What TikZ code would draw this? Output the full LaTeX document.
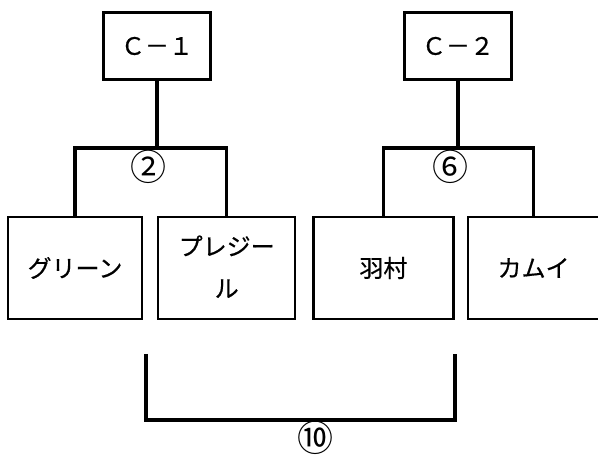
\documentclass[tikz,border=0pt]{standalone}
\usepackage{fontspec}
\setmainfont{Noto Sans CJK JP}[FakeBold=0.5]
\newfontfamily\scorefont{Noto Sans CJK JP}
\usetikzlibrary{positioning}

\begin{document}
\begin{tikzpicture}[x=1pt, y=1pt, font=\fontsize{24pt}{42pt}\selectfont,
    court/.style={rectangle, minimum width=107pt, minimum height=67pt, inner sep=0pt, draw=black, line width=2.2pt},
    entry/.style={rectangle, minimum height=102pt, inner sep=0pt, draw=black, line width=2.2pt},
    conn/.style={draw=black, line width=3.5pt},
    score/.style={inner sep=0pt, font=\scorefont\fontsize{36pt}{40pt}\selectfont}]
    \useasboundingbox (0,0) rectangle (598,457);
    \begin{scope}
    \node (c1) [court] at (157,411) {Ｃ－１};
    \node (c2) [court] at (458,411) {Ｃ－２};
    \node (green) [entry, minimum width=134pt] at (75,189) {グリーン};
    \node (presir) [entry, minimum width=137pt, right=14pt of green] {
        \begin{tabular}{c}
            プレジー \\
            ル
        \end{tabular}};
    \node (hamura) [entry, minimum width=140pt, right=16pt of presir] {羽村};
    \node (kamui) [entry, minimum width=132pt, right=12pt of hamura] {カムイ};
    \end{scope}
    \begin{scope}
        \coordinate (j1) at (157,309);
        \coordinate (j2) at (458,309);
        \draw [conn] (c1.south) -- (j1);
        \draw [conn] (green.north) |- (j1) -| (presir.north);
        \draw [conn] (c2.south) -- (j2);
        \draw [conn] (hamura.north) |- (j2) -| (kamui.north);
        \node (r2) [score] at (148,290) {②};
        \node (r6) [score] at (450,290) {⑥};
    \end{scope}
    \begin{scope}
        \coordinate (f1) at (146,103);
        \coordinate (f2) at (455,103);
        \draw [conn] (f1) -- ++(0,-66) -| (f2);
        \node (r10) [score] at (315,19) {⑩};
    \end{scope}
\end{tikzpicture}
\end{document}
